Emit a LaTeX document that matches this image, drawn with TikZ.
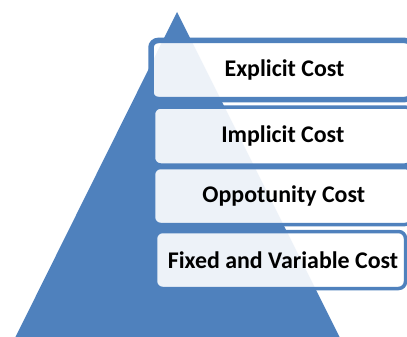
\documentclass[tikz,border=0pt]{standalone}
\usepackage{fontspec}
\setmainfont{Carlito}
\definecolor{ofblue}{HTML}{4F81BD}
\tikzset{
  costbox/.style={draw=ofblue, line width=3.5pt, rounded corners=7pt,
    fill=white, fill opacity=0.9, text opacity=1, rectangle,
    inner sep=0pt, font=\fontsize{23.9}{28}\selectfont\bfseries, text=black},
}
\begin{document}
\begin{tikzpicture}[x=1pt,y=-1pt]
\useasboundingbox (0,0) rectangle (407,337);
\fill[white] (0,0) rectangle (407,337);
\coordinate (apex) at (177,12);
\coordinate (bl) at (15,338);
\coordinate (br) at (340,338);
\fill[ofblue] (apex) -- (bl) -- (br) -- cycle;
\node[costbox, line width=5.5pt, minimum width=261pt, minimum height=59pt] (b1) at (281.5,70) {\hspace*{6pt}Explicit Cost};
\node[costbox, minimum width=258.5pt, minimum height=58pt] (b2) at (282.75,136) {Implicit Cost};
\node[costbox, minimum width=258.5pt, minimum height=57pt] (b3) at (282.75,196) {\hspace*{2pt}Oppotunity Cost};
\node[costbox, minimum width=250pt, minimum height=57pt] (b4) at (280.5,260) {\hspace*{5pt}Fixed and Variable Cost};
\end{tikzpicture}
\end{document}
